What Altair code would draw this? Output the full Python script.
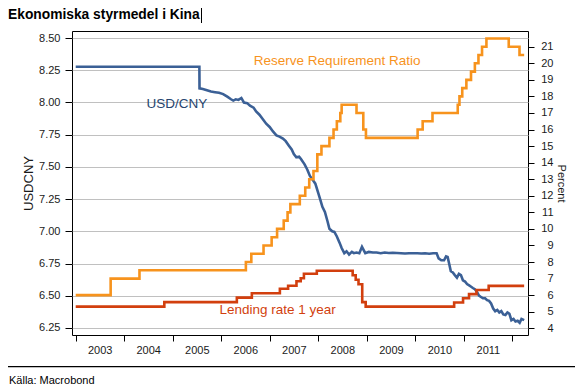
import altair as alt
import pandas as pd

# ---------------- data ----------------
usd_dates = [
    "2003-01-01", "2003-06-01", "2004-01-01", "2004-06-01", "2005-01-01", "2005-07-20",
    "2005-07-21", "2005-08-15", "2005-09-15", "2005-10-15", "2005-11-15", "2005-12-15",
    "2006-01-15", "2006-02-15", "2006-03-15", "2006-04-01", "2006-04-20", "2006-05-10",
    "2006-06-01", "2006-06-20", "2006-07-15", "2006-08-05", "2006-09-01", "2006-09-20",
    "2006-10-15", "2006-11-10", "2006-12-05", "2006-12-31", "2007-01-25", "2007-02-20",
    "2007-03-15", "2007-04-10", "2007-05-01", "2007-05-25", "2007-06-15", "2007-07-01",
    "2007-07-20", "2007-08-10", "2007-08-25", "2007-09-20", "2007-10-10", "2007-10-30",
    "2007-11-20", "2007-12-10", "2007-12-31", "2008-01-15", "2008-02-01", "2008-02-20",
    "2008-03-10", "2008-03-25", "2008-04-15", "2008-05-01", "2008-05-20", "2008-06-10",
    "2008-06-25", "2008-07-15", "2008-08-01", "2008-08-20", "2008-09-10", "2008-09-25",
    "2008-10-15", "2008-11-05", "2008-11-25", "2008-12-05", "2008-12-20", "2009-01-15",
    "2009-02-15", "2009-03-15", "2009-04-15", "2009-05-15", "2009-06-15", "2009-07-15",
    "2009-08-15", "2009-09-15", "2009-10-15", "2009-11-15", "2009-12-15", "2010-01-15",
    "2010-02-15", "2010-03-15", "2010-04-15", "2010-05-15", "2010-06-10", "2010-06-25",
    "2010-07-15", "2010-08-05", "2010-08-20", "2010-09-01", "2010-09-10", "2010-09-25",
    "2010-10-10", "2010-10-25", "2010-11-10", "2010-11-25", "2010-12-10", "2010-12-25",
    "2011-01-10", "2011-01-25", "2011-02-10", "2011-02-25", "2011-03-10", "2011-03-25",
    "2011-04-10", "2011-04-25", "2011-05-10", "2011-05-25", "2011-06-10", "2011-06-25",
    "2011-07-10", "2011-07-25", "2011-08-10", "2011-08-25", "2011-09-10", "2011-09-25",
    "2011-10-10", "2011-10-25", "2011-11-10", "2011-11-25", "2011-12-10", "2011-12-25",
    "2012-01-10", "2012-01-25", "2012-02-10", "2012-02-25", "2012-03-10", "2012-03-30",
]
usd_values = [
    8.277, 8.277, 8.277, 8.277, 8.277, 8.277,
    8.110, 8.105, 8.095, 8.085, 8.080, 8.075,
    8.065, 8.045, 8.025, 8.015, 8.025, 8.020,
    8.035, 8.000, 7.995, 7.975, 7.960, 7.930,
    7.905, 7.870, 7.835, 7.810, 7.775, 7.745,
    7.735, 7.720, 7.700, 7.665, 7.635, 7.600,
    7.575, 7.580, 7.560, 7.520, 7.480, 7.430,
    7.400, 7.370, 7.300, 7.250, 7.190, 7.150,
    7.080, 7.020, 7.000, 6.995, 6.960, 6.910,
    6.870, 6.830, 6.845, 6.820, 6.840, 6.830,
    6.835, 6.830, 6.880, 6.860, 6.830, 6.840,
    6.835, 6.835, 6.830, 6.835, 6.832, 6.834,
    6.832, 6.830, 6.828, 6.830, 6.830, 6.830,
    6.828, 6.830, 6.826, 6.830, 6.830, 6.790,
    6.775, 6.775, 6.805, 6.800, 6.760, 6.690,
    6.680, 6.660, 6.640, 6.670, 6.660, 6.620,
    6.610, 6.590, 6.580, 6.570, 6.560, 6.550,
    6.530, 6.500, 6.490, 6.480, 6.480, 6.465,
    6.460, 6.440, 6.400, 6.380, 6.390, 6.370,
    6.380, 6.355, 6.350, 6.370, 6.360, 6.310,
    6.320, 6.300, 6.305, 6.290, 6.320, 6.310,
]

rrr_dates = [
    "2003-01-01", "2003-09-21", "2004-04-25", "2006-07-05", "2006-08-15", "2006-11-15",
    "2007-01-15", "2007-02-25", "2007-04-16", "2007-05-15", "2007-06-05", "2007-08-15",
    "2007-09-25", "2007-10-25", "2007-11-26", "2007-12-25", "2008-01-25", "2008-03-25",
    "2008-04-25", "2008-05-20", "2008-06-15", "2008-06-25", "2008-10-15", "2008-12-05",
    "2008-12-25", "2010-01-18", "2010-02-25", "2010-05-10", "2010-11-16", "2010-11-29",
    "2010-12-20", "2011-01-20", "2011-02-24", "2011-03-25", "2011-04-21", "2011-05-18",
    "2011-06-20", "2011-12-05", "2012-02-24", "2012-03-30",
]
rrr_values = [
    6.0, 7.0, 7.5, 8.0, 8.5, 9.0,
    9.5, 10.0, 10.5, 11.0, 11.5, 12.0,
    12.5, 13.0, 13.5, 14.5, 15.0, 15.5,
    16.0, 16.5, 17.0, 17.5, 17.0, 16.0,
    15.5, 16.0, 16.5, 17.0, 17.5, 18.0,
    18.5, 19.0, 19.5, 20.0, 20.5, 21.0,
    21.5, 21.0, 20.5, 20.5,
]

lend_dates = [
    "2003-01-01", "2004-10-29", "2006-04-28", "2006-08-19", "2007-03-18", "2007-05-19",
    "2007-07-21", "2007-08-22", "2007-09-15", "2007-12-21", "2008-09-16", "2008-10-09",
    "2008-10-30", "2008-11-27", "2008-12-23", "2010-10-20", "2010-12-26", "2011-02-09",
    "2011-04-06", "2011-07-07", "2012-03-30",
]
lend_values = [
    5.31, 5.58, 5.85, 6.12, 6.39, 6.57,
    6.84, 7.02, 7.29, 7.47, 7.20, 6.93,
    6.66, 5.58, 5.31, 5.56, 5.81, 6.06,
    6.31, 6.56, 6.56,
]

left_ticks = [6.25, 6.50, 6.75, 7.00, 7.25, 7.50, 7.75, 8.00, 8.25, 8.50]
right_ticks = [4, 5, 6, 7, 8, 9, 10, 11, 12, 13, 14, 15, 16, 17, 18, 19, 20, 21]
year_ticks = [2003, 2004, 2005, 2006, 2007, 2008, 2009, 2010, 2011, 2012]

usd_label = ["USD/CNY"]
usd_label_date = ["2005-02-01"]
usd_label_value = [7.99]

rate_labels = ["Reserve Requirement Ratio", "Lending rate 1 year"]
rate_label_dates = ["2008-05-22", "2007-03-01"]
rate_label_values = [20.12, 5.08]
rate_label_colors = ["#F7931D", "#D23F0E"]

title_text = "Ekonomiska styrmedel i Kina"
source_text = "Källa: Macrobond"

# ---------------- frames ----------------
usd_df = pd.DataFrame({"date": usd_dates, "value": usd_values})
rrr_df = pd.DataFrame({"date": rrr_dates, "value": rrr_values})
lend_df = pd.DataFrame({"date": lend_dates, "value": lend_values})
usd_lab_df = pd.DataFrame({"date": usd_label_date, "value": usd_label_value, "text": usd_label})
rate_lab_df = pd.DataFrame({"date": rate_label_dates, "value": rate_label_values,
                            "text": rate_labels, "color": rate_label_colors})

FONT = "Liberation Sans"

x_enc = alt.X(
    "date:T",
    title=None,
    scale=alt.Scale(type="utc", domain=[
        alt.DateTime(year=2002, month=12, date=4, utc=True),
        alt.DateTime(year=2012, month=4, date=28, utc=True),
    ]),
    axis=alt.Axis(
        values=[alt.DateTime(year=y, month=1, date=1, utc=True) for y in year_ticks],
        labelExpr="utcFormat(datum.value, '%Y') == '2012' ? '' : utcFormat(datum.value, '%Y')",
        labelOffset=24, tickSize=6, labelPadding=3, grid=False, domain=False,
        tickColor="black", labelColor="#1a1a1a", labelFontSize=11, labelFont=FONT,
        labelFlush=False, labelOverlap=False,
    ),
)

y_left = alt.Y(
    "value:Q",
    scale=alt.Scale(domain=[6.195, 8.555], nice=False, zero=False),
    axis=alt.Axis(
        orient="left", values=left_ticks, format=".2f", title="USDCNY",
        grid=True, gridColor="#C0C0C0", gridWidth=1, domain=False,
        tickSize=7, tickColor="black", labelPadding=5, labelFontSize=11, labelFont=FONT,
        labelColor="#1a1a1a", titleFont=FONT, titleFontSize=13, titleFontWeight="normal",
        titleColor="#1a1a1a", titlePadding=3,
    ),
)

y_right = alt.Y(
    "value:Q",
    scale=alt.Scale(domain=[3.595, 21.95], nice=False, zero=False),
    axis=alt.Axis(
        orient="right", values=right_ticks, format="d", title="Percent",
        grid=False, domain=False, tickSize=6, tickColor="black",
        labelAlign="right", labelPadding=19, labelFontSize=11, labelFont=FONT,
        labelColor="#1a1a1a", titleFont=FONT, titleFontSize=11, titleFontWeight="normal",
        titleColor="#1a1a1a", titlePadding=2,
    ),
)

usd_line = alt.Chart(usd_df).mark_line(color="#3B6096", strokeWidth=2.6).encode(x=x_enc, y=y_left)
usd_text = alt.Chart(usd_lab_df).mark_text(
    color="#27456F", font=FONT, fontSize=13.5, align="center", baseline="middle"
).encode(x=x_enc, y=y_left, text="text:N")
left = alt.layer(usd_line, usd_text)

rrr_line = alt.Chart(rrr_df).mark_line(color="#F7931D", strokeWidth=2.6, interpolate="step-after").encode(x=x_enc, y=y_right)
lend_line = alt.Chart(lend_df).mark_line(color="#D23F0E", strokeWidth=2.6, interpolate="step-after").encode(x=x_enc, y=y_right)
rate_text = alt.Chart(rate_lab_df).mark_text(
    font=FONT, fontSize=13.5, align="center", baseline="middle"
).encode(x=x_enc, y=y_right, text="text:N", color=alt.Color("color:N", scale=None))
right = alt.layer(rrr_line, lend_line, rate_text)

deco_df = pd.DataFrame({"title": [title_text], "source": [source_text]})
title_mark = alt.Chart(deco_df).mark_text(
    font=FONT, fontSize=13.8, fontWeight="bold", align="left", baseline="alphabetic", color="black"
).encode(x=alt.value(-64), y=alt.value(-12.5), text="title:N")
cursor_mark = alt.Chart(deco_df).mark_rule(color="black", strokeWidth=1).encode(
    x=alt.value(129.5), y=alt.value(-23), y2=alt.value(-8))
bottom_rule = alt.Chart(deco_df).mark_rule(color="black", strokeWidth=1.3).encode(
    x=alt.value(-64), x2=alt.value(503), y=alt.value(335.7))
source_mark = alt.Chart(deco_df).mark_text(
    font=FONT, fontSize=11, align="left", baseline="alphabetic", color="black"
).encode(x=alt.value(-63), y=alt.value(353), text="source:N")
deco = alt.layer(title_mark, cursor_mark, bottom_rule, source_mark)

chart = alt.layer(left, right, deco).resolve_scale(y="independent").properties(
    width=456, height=304,
    autosize=alt.AutoSizeParams(type="none"),
    padding={"left": 64, "top": 23, "right": 47, "bottom": 52},
    background="white",
).configure_view(stroke="black", strokeWidth=1)

chart.save("out.html", embed_options={"renderer": "svg", "actions": False})
